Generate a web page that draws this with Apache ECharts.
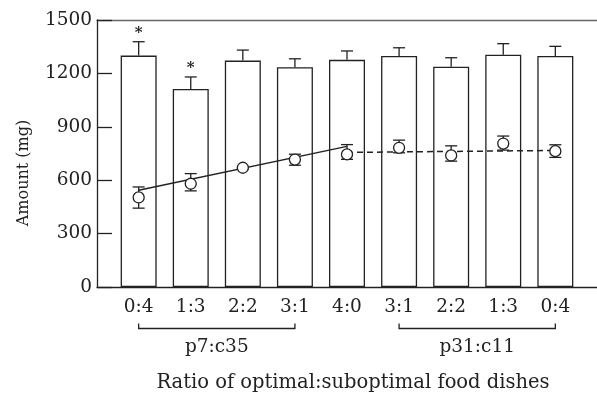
<!DOCTYPE html>
<html><head><meta charset="utf-8">
<script src="https://cdn.jsdelivr.net/npm/echarts@6/dist/echarts.min.js"></script>
<style>html,body{margin:0;padding:0;background:#fff}#c{width:597px;height:395px}</style>
</head><body><div id="c"></div>
<script>
// ---- data ----
const categories = ['0:4','1:3','2:2','3:1','4:0','3:1','2:2','1:3','0:4'];
const barMeans   = [1300,1112,1272,1235,1276,1298,1237,1305,1298];
const barErrTop  = [1378,1180,1331,1282,1326,1344,1288,1367,1352];
const barStars   = ['*','*','','','','','','',''];
const pointMeans   = [503,580,670,716,745,782,739,806,763];
const pointErrLow  = [443,540,662,684,717,754,707,769,728];
const pointErrHigh = [562,637,678,746,800,825,793,848,799];
const fitSolidX = [1,5];
const fitSolidY = [544,790];
const fitDashedX = [5,9];
const fitDashedY = [756,767];
const groupLabels = ['p7:c35','p31:c11'];
const groupFrom = [1,6];
const groupTo = [4,9];
const yTicks = [0,300,600,900,1200,1500];
const xTitle = 'Ratio of optimal:suboptimal food dishes';
const yTitle = 'Amount (mg)';

// ---- chart ----
const FONT = 'DejaVu Serif';
const FS = 18.5;
const INK = '#222';
const chart = echarts.init(document.getElementById('c'), null, {renderer:'canvas'});
const xs = categories.map((c,i)=>i+1);

const option = {
  animation:false,
  backgroundColor:'#fff',
  grid:{left:97, top:20, width:521, height:267},
  xAxis:[{
    type:'value', min:0.2, max:9.8, position:'bottom',
    axisLine:{show:true, onZero:false, lineStyle:{color:INK, width:1.3}},
    axisTick:{show:false}, axisLabel:{show:false}, splitLine:{show:false}
  },{
    type:'value', min:0.2, max:9.8, position:'top',
    axisLine:{show:true, onZero:false, lineStyle:{color:'#666', width:1.3}},
    axisTick:{show:false}, axisLabel:{show:false}, splitLine:{show:false}
  }],
  yAxis:{
    type:'value', min:yTicks[0], max:yTicks[yTicks.length-1], interval:yTicks[1]-yTicks[0],
    axisLine:{show:true, lineStyle:{color:INK, width:1.3}},
    axisTick:{show:true, inside:true, length:15, lineStyle:{color:INK, width:1.3}},
    axisLabel:{fontFamily:FONT, fontSize:FS, color:INK, margin:5, formatter:(v)=>String(v)},
    splitLine:{show:false}
  },
  graphic:[
    {type:'text', x:353, y:383, style:{text:xTitle, font:'19.5px "'+FONT+'"', fill:INK, textAlign:'center', textVerticalAlign:'middle'}},
    {type:'text', x:24, y:173, rotation:Math.PI/2, style:{text:yTitle, font:'16px "'+FONT+'"', fill:INK, textAlign:'center', textVerticalAlign:'middle'}}
  ],
  series:[
    {
      type:'bar', barWidth:36, z:2,
      data: xs.map((x,i)=>[x, barMeans[i]]),
      itemStyle:{color:'#fff', borderColor:INK, borderWidth:1.3}
    },
    {
      type:'custom', z:3, clip:false,
      data: xs.map((x,i)=>[x, barMeans[i], barErrTop[i]]),
      renderItem:(params, api)=>{
        const x = api.value(0);
        const pb = api.coord([x, api.value(1)]);
        const pt = api.coord([x, api.value(2)]);
        const w = 6;
        const ch = [
          {type:'line', shape:{x1:pb[0], y1:pb[1], x2:pt[0], y2:pt[1]}, style:{stroke:INK, lineWidth:1.3}},
          {type:'line', shape:{x1:pt[0]-w, y1:pt[1], x2:pt[0]+w, y2:pt[1]}, style:{stroke:INK, lineWidth:1.3}}
        ];
        const s = barStars[params.dataIndex];
        if (s) ch.push({type:'text', x:pt[0], y:pt[1]-9, style:{text:s, font:'bold 15px "'+FONT+'"', fill:INK, textAlign:'center', textVerticalAlign:'middle'}});
        return {type:'group', children:ch};
      }
    },
    {
      type:'line', z:4, symbol:'none', data: fitSolidX.map((x,i)=>[x, fitSolidY[i]]),
      lineStyle:{color:INK, width:1.5, type:'solid'}
    },
    {
      type:'line', z:4, symbol:'none', data: fitDashedX.map((x,i)=>[x, fitDashedY[i]]),
      lineStyle:{color:INK, width:1.5, type:[6,4]}
    },
    {
      type:'custom', z:5, clip:false,
      data: xs.map((x,i)=>[x, pointErrLow[i], pointErrHigh[i]]),
      renderItem:(params, api)=>{
        const x = api.value(0);
        const pl = api.coord([x, api.value(1)]);
        const ph = api.coord([x, api.value(2)]);
        const w = 6;
        return {type:'group', children:[
          {type:'line', shape:{x1:pl[0], y1:pl[1], x2:ph[0], y2:ph[1]}, style:{stroke:INK, lineWidth:1.3}},
          {type:'line', shape:{x1:pl[0]-w, y1:pl[1], x2:pl[0]+w, y2:pl[1]}, style:{stroke:INK, lineWidth:1.3}},
          {type:'line', shape:{x1:ph[0]-w, y1:ph[1], x2:ph[0]+w, y2:ph[1]}, style:{stroke:INK, lineWidth:1.3}}
        ]};
      }
    },
    {
      type:'scatter', z:6, symbol:'circle', symbolSize:11,
      data: xs.map((x,i)=>[x, pointMeans[i]]),
      itemStyle:{color:'#fff', borderColor:INK, borderWidth:1.3, opacity:1}
    },
    {
      type:'custom', z:7, clip:false,
      data: xs.map((x)=>[x, 0]),
      renderItem:(params, api)=>{
        const p = api.coord([api.value(0), api.value(1)]);
        return {type:'text', x:p[0], y:p[1]+20, style:{text:categories[params.dataIndex], font:FS+'px "'+FONT+'"', fill:INK, textAlign:'center', textVerticalAlign:'middle'}};
      }
    },
    {
      type:'custom', z:7, clip:false,
      data: groupLabels.map((g,i)=>[groupFrom[i], groupTo[i], 0]),
      renderItem:(params, api)=>{
        const a = api.coord([api.value(0), api.value(2)]);
        const b = api.coord([api.value(1), api.value(2)]);
        const y = a[1] + 41.5;
        return {type:'group', children:[
          {type:'polyline', shape:{points:[[a[0], y-5],[a[0], y],[b[0], y],[b[0], y-5]]}, style:{stroke:INK, lineWidth:1.3, fill:null}},
          {type:'text', x:(a[0]+b[0])/2, y:y+19, style:{text:groupLabels[params.dataIndex], font:FS+'px "'+FONT+'"', fill:INK, textAlign:'center', textVerticalAlign:'middle'}}
        ]};
      }
    }
  ]
};
chart.setOption(option);
</script>
</body></html>
